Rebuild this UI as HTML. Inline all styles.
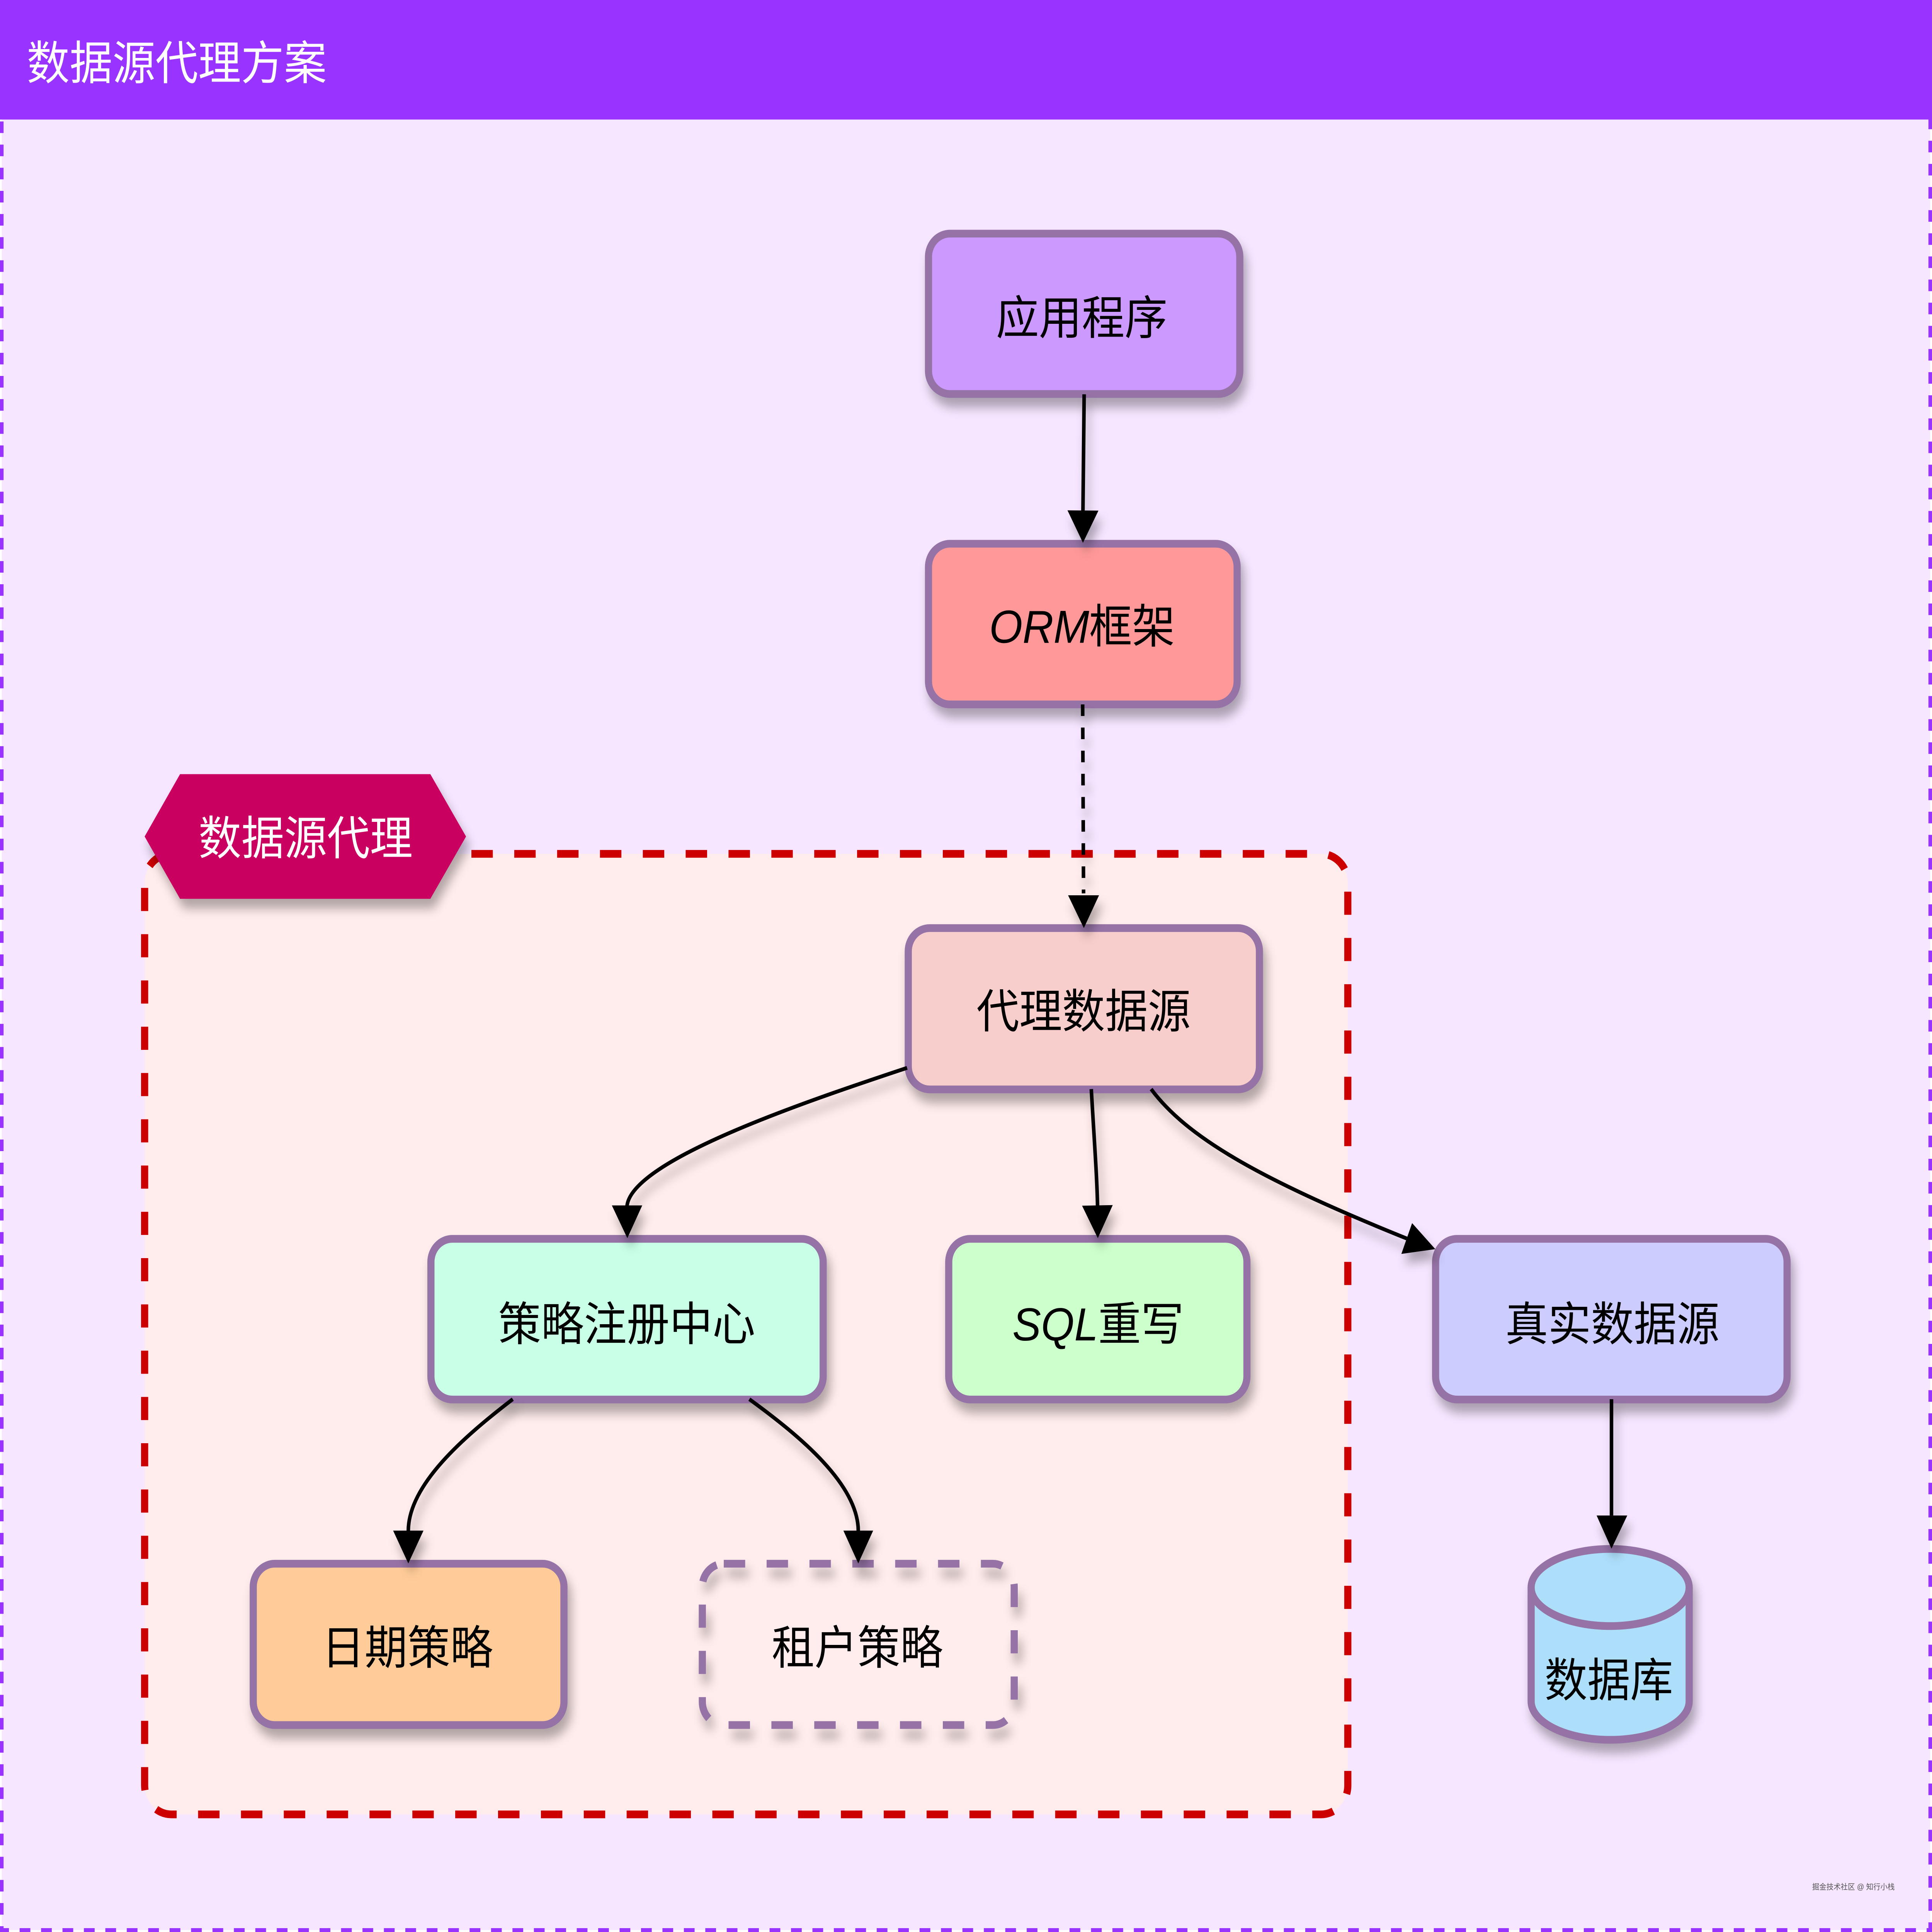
<!DOCTYPE html>
<html lang="zh"><head><meta charset="utf-8"><title>数据源代理方案</title>
<style>
html,body{margin:0;padding:0;background:#fff;width:100%;height:100%;overflow:hidden}
svg{display:block;position:fixed;left:0;top:0;width:100vw;height:100vh}
text{font-family:"Liberation Sans","Noto Sans CJK SC",sans-serif;font-size:144px;text-anchor:middle;fill:#000}
.n{stroke:#9673a6;stroke-width:24}
.e{fill:none;stroke:#000;stroke-width:12}
.l{font-style:italic}
</style></head><body>
<svg xmlns="http://www.w3.org/2000/svg" viewBox="0 0 6492 6012" preserveAspectRatio="none">
<defs>
<filter id="s" x="-10%" y="-15%" width="125%" height="145%" color-interpolation-filters="sRGB"><feDropShadow dx="12" dy="30" stdDeviation="16" flood-color="#000" flood-opacity=".3"/></filter>
<filter id="a" x="-45%" y="-15%" width="190%" height="140%" color-interpolation-filters="sRGB"><feDropShadow dx="12" dy="30" stdDeviation="16" flood-color="#000" flood-opacity=".3"/></filter>
</defs>
<rect x="6" y="6" width="6480" height="6000" fill="#f6e6ff" stroke="#9933ff" stroke-width="12" stroke-dasharray="36 36"/>
<rect x="0" y="0" width="6492" height="372" fill="#9933ff"/>
<text x="90" y="247" style="text-anchor:start;fill:#fff">数据源代理方案</text>

<rect x="486" y="2657" width="4043" height="2989" rx="90" ry="90" fill="#ffecec" stroke="#cc0000" stroke-width="24" stroke-dasharray="72 72"/>
<polygon points="486,2603 605,2409 1446,2409 1566,2603 1446,2797 605,2797" fill="#c90060" filter="url(#s)"/>
<text x="1027" y="2659" style="fill:#fff">数据源代理</text>

<rect class="n" x="3120" y="727" width="1046" height="499" rx="72" fill="#cc99ff" filter="url(#s)"/>
<rect class="n" x="3120" y="1692" width="1037" height="500" rx="72" fill="#ff9999" filter="url(#s)"/>
<rect class="n" x="3052" y="2888" width="1180" height="502" rx="72" fill="#f8cecc" filter="url(#s)"/>
<rect class="n" x="1448" y="3855" width="1318" height="500" rx="72" fill="#c8ffe6" filter="url(#s)"/>
<rect class="n" x="3188" y="3855" width="1002" height="500" rx="72" fill="#ccffcc" filter="url(#s)"/>
<rect class="n" x="4824" y="3855" width="1181" height="500" rx="72" fill="#ccccff" filter="url(#s)"/>
<rect class="n" x="851" y="4866" width="1044" height="502" rx="72" fill="#ffcc99" filter="url(#s)"/>
<rect class="n" x="2360" y="4866" width="1048" height="502" rx="72" fill="none" stroke-dasharray="72 72" filter="url(#s)"/>
<g filter="url(#s)"><path class="n" d="M5145,4940 A265.5,120 0 0 1 5676,4940 V5294 A265.5,120 0 0 1 5145,5294 Z" fill="#addefa"/>
<path class="n" d="M5145,4940 A265.5,120 0 0 0 5676,4940" fill="none"/></g>

<g filter="url(#a)"><path class="e" d="M3643,1227 L3639,1590"/><polygon points="3587,1588 3691,1589 3639,1689"/></g>
<g filter="url(#a)"><path class="e" d="M3638,2192 L3641,2780" stroke-dasharray="36 36"/><polygon points="3589,2786 3693,2786 3642,2888"/></g>
<g filter="url(#s)"><path class="e" d="M3048,3323 C2700,3430 2125,3610 2107,3752"/><polygon points="2056,3751 2158,3751 2108,3853"/></g>
<g filter="url(#a)"><path class="e" d="M3667,3389 C3677,3550 3686,3660 3688,3752"/><polygon points="3636,3752 3739,3750 3689,3853"/></g>
<g filter="url(#s)"><path class="e" d="M3868,3389 C3985,3535 4220,3665 4727,3854"/><polygon points="4745,3806 4709,3902 4823,3887"/></g>
<g filter="url(#s)"><path class="e" d="M1723,4354 C1560,4470 1372,4620 1372,4764"/><polygon points="1321,4763 1423,4763 1372,4865"/></g>
<g filter="url(#s)"><path class="e" d="M2518,4354 C2690,4470 2884,4620 2884,4764"/><polygon points="2834,4763 2934,4763 2884,4865"/></g>
<g filter="url(#a)"><path class="e" d="M5415,4354 V4716"/><polygon points="5365,4716 5468,4716 5415,4819"/></g>

<text x="3635" y="1040">应用程序</text>
<text x="3636" y="2000"><tspan class="l">ORM</tspan>框架</text>
<text x="3641" y="3198">代理数据源</text>
<text x="2106" y="4171">策略注册中心</text>
<text x="3690" y="4171"><tspan class="l">SQL</tspan>重写</text>
<text x="5418" y="4171">真实数据源</text>
<text x="5406" y="5279">数据库</text>
<text x="1369" y="5178">日期策略</text>
<text x="2881" y="5178">租户策略</text>
<text x="6228" y="5880" style="font-size:24px;fill:#555">掘金技术社区 @ 知行小栈</text>
</svg>
</body></html>
